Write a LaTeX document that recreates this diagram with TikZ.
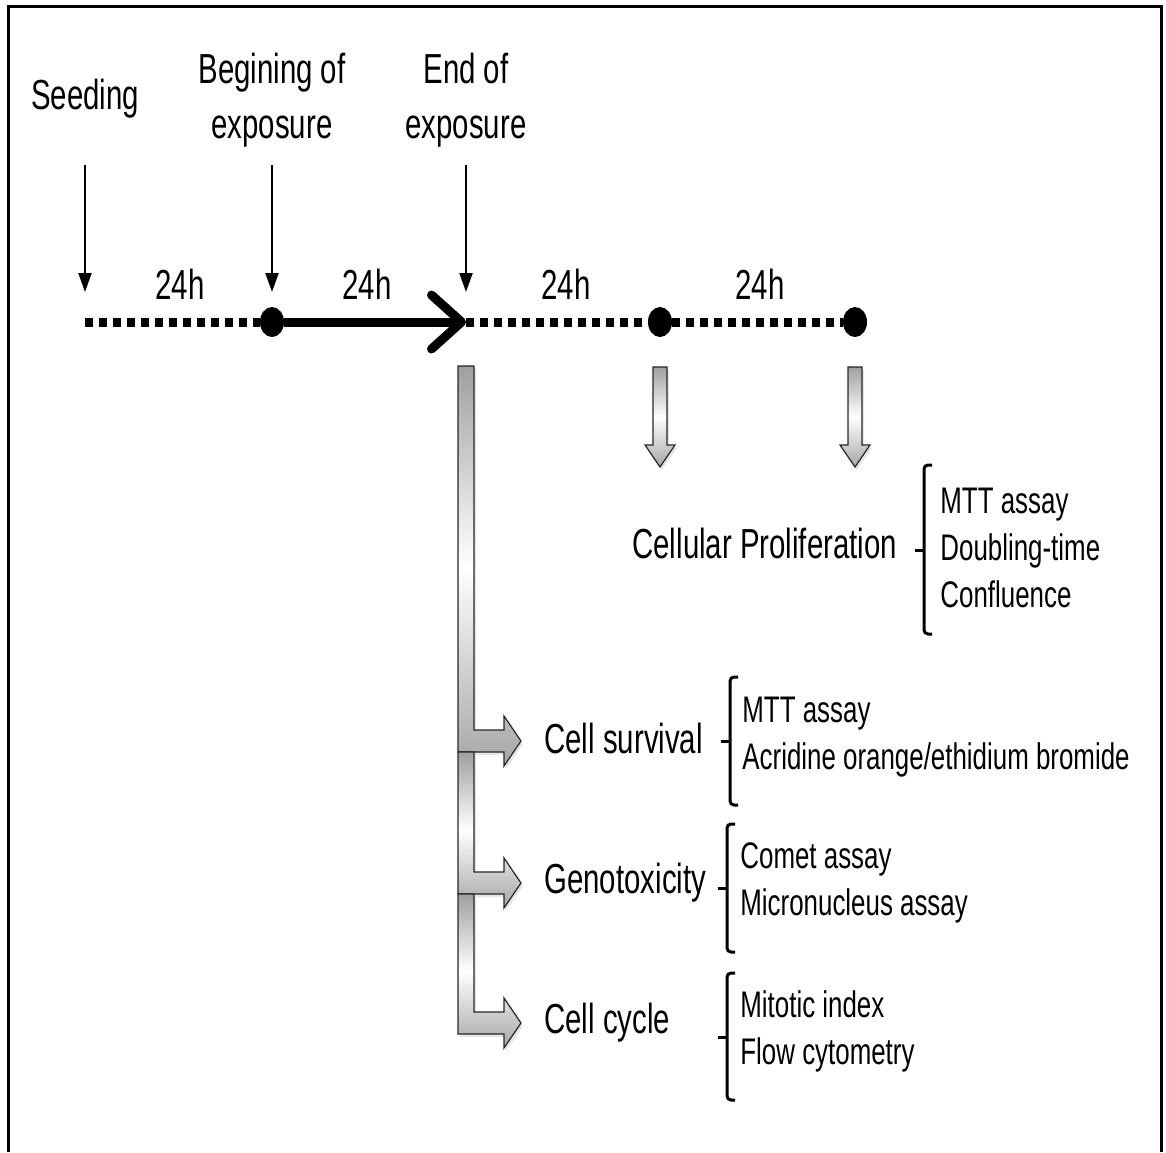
\documentclass[tikz,border=0pt]{standalone}
\usepackage{fontspec}
\setmainfont[FakeStretch=0.70]{Liberation Sans}
\usetikzlibrary{arrows.meta,positioning,shapes.geometric,shadows}
\newcommand{\greybent}[2]{%
  \draw[greyarrow] (458,#1) -- (474,#1) -- (474,#2-11) -- (504,#2-11) -- (504,#2-25)
    -- (521,#2) -- (504,#2+25) -- (504,#2+11) -- (458,#2+11) -- cycle;}
\newcommand{\greydown}[1]{%
  \draw[greyarrow] (#1-7,367) -- (#1+7,367) -- (#1+7,445) -- (#1+15,445)
    -- (#1,467) -- (#1-15,445) -- (#1-7,445) -- cycle;}
\newcommand{\sqbrace}[4]{%
  \draw[brace] (#1+8,#2) -- (#1,#2) -- (#1,#4) -- (#1+8,#4);
  \draw[brace] (#1-9,#3) -- (#1,#3);}

\begin{document}
\begin{tikzpicture}[
                          x=0.5pt,
                          y=-0.5pt,
                          bigtext/.style={font=\fontsize{21}{27.5}\selectfont, align=center, inner sep=0pt},
                          listtext/.style={font=\fontsize{18.5}{23.5}\selectfont, align=left, anchor=west, inner sep=0pt},
                          timedot/.style={ellipse, fill=black, minimum width=12pt, minimum height=15pt, inner sep=0pt},
                          timedash/.style={line width=4.5pt, dash pattern=on 4pt off 3pt},
                          exparrow/.style={line width=4.5pt, -{Straight Barb[length=15pt,width=27pt,round]}},
                          pointer/.style={line width=1.1pt, -{Triangle[length=9.5pt,width=6.5pt]}},
                          greyarrow/.style={draw=black!85, line width=0.6pt, top color=gray!75, bottom color=gray!70,
                                            middle color=white, drop shadow={opacity=0.2, shadow xshift=1pt, shadow yshift=-1.5pt}},
                          brace/.style={line width=1.5pt, rounded corners=2pt}]
                      \useasboundingbox (0,0) rectangle (1166,1152);
                      \draw[line width=1.5pt] (8,1152) -- (8,6) -- (1161,6) -- (1161,1152);
                      \node[bigtext] (seed_lbl) at (85,99) {Seeding};
                      \node[bigtext] (begin_lbl) at (272,100) {Begining of\\exposure};
                      \node[bigtext] (end_lbl) at (466,100) {End of\\exposure};
                      \coordinate (a_0) at (85,165);
                      \coordinate (a_1) at (272,165);
                      \coordinate (a_2) at (466,165);
                      \coordinate (b_0) at (85,292);
                      \coordinate (b_1) at (272,292);
                      \coordinate (b_2) at (466,292);
                      \path[pointer]
                      (a_0) edge (b_0)
                      (a_1) edge (b_1)
                      (a_2) edge (b_2)
                      ;
                      \coordinate (t_0) at (85,322);
                      \node[timedot] (t_1) at (272,322) {};
                      \coordinate (t_2) at (466,322);
                      \node[timedot] (t_3) at (660,322) {};
                      \node[timedot] (t_4) at (855,322) {};
                      \draw[timedash] (t_0) -- (t_1);
                      \draw[exparrow] (t_1) -- (t_2);
                      \draw[timedash] (t_2) -- (t_3);
                      \draw[timedash] (t_3) -- (t_4);
                      \foreach \x in {180,367,566,760}
                        \node[bigtext, anchor=base] (h_\x) at (\x,299) {24h};
                      \greydown{660}
                      \greydown{855}
                      \greybent{366}{741}
                      \greybent{752}{883}
                      \greybent{894}{1023}
                      \node[bigtext, anchor=base west] (prolif) at (632,558) {Cellular Proliferation};
                      \node[bigtext, anchor=base west] (survival) at (544,753) {Cell survival};
                      \node[bigtext, anchor=base west] (geno) at (544,893) {Genotoxicity};
                      \node[bigtext, anchor=base west] (cycle) at (544,1033) {Cell cycle};
                      \sqbrace{924}{465}{550}{634}
                      \sqbrace{730}{677}{741}{805}
                      \sqbrace{727}{824}{888}{952}
                      \sqbrace{727}{973}{1037}{1100}
                      \node[listtext] (prolif_list) at (940,548) {MTT assay\\Doubling-time\\Confluence};
                      \node[listtext] (survival_list) at (742,737) {MTT assay\\Acridine orange/ethidium bromide};
                      \node[listtext] (geno_list) at (740,883) {Comet assay\\Micronucleus assay};
                      \node[listtext] (cycle_list) at (740,1031) {Mitotic index\\Flow cytometry};
                  \end{tikzpicture}
\end{document}
